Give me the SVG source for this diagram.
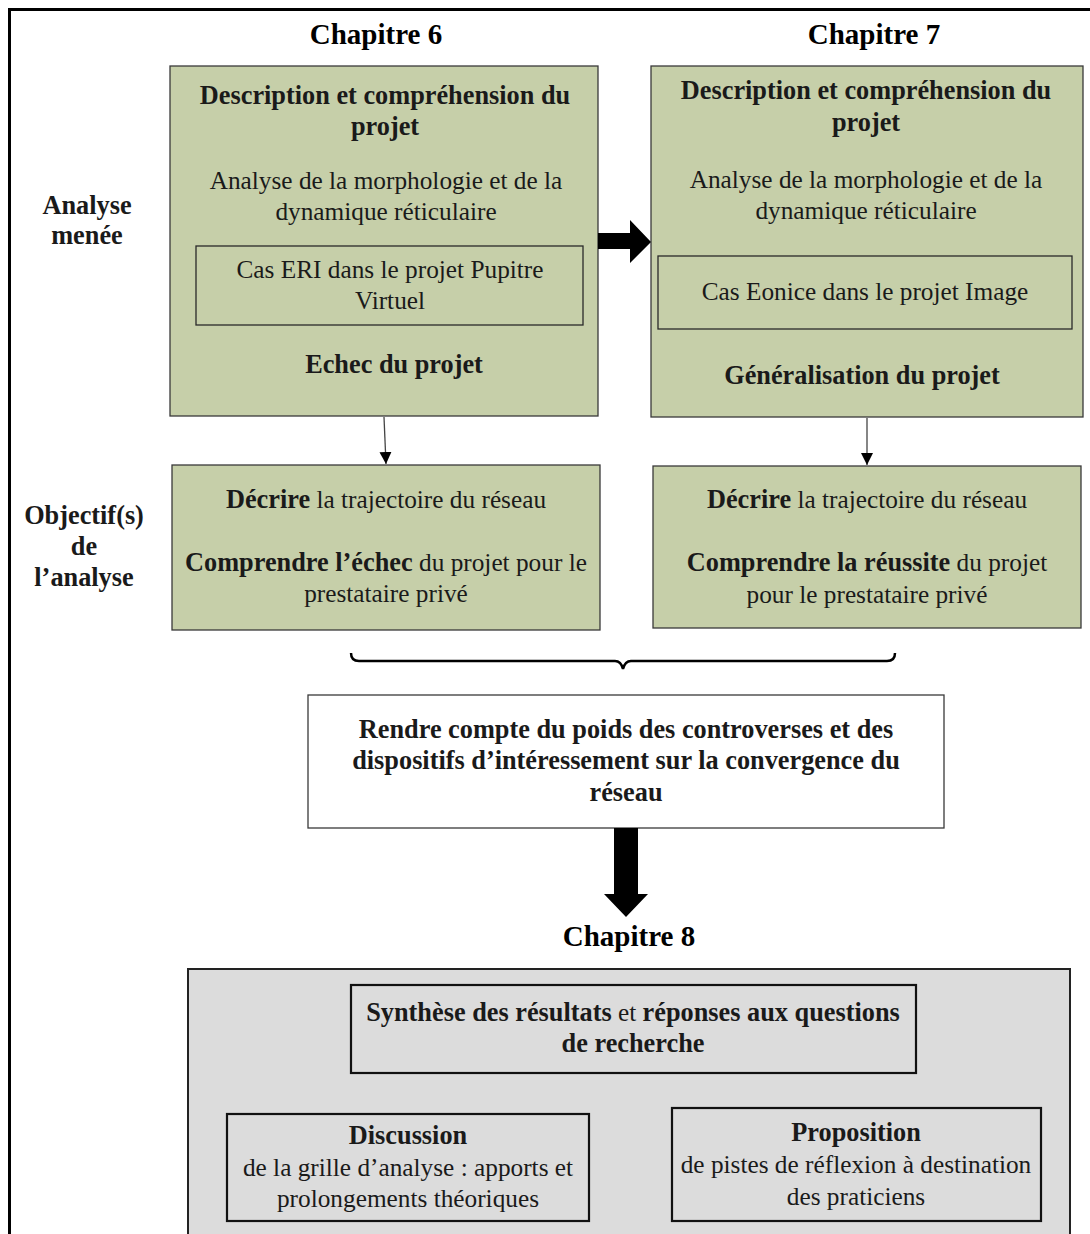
<svg xmlns="http://www.w3.org/2000/svg" width="1090" height="1234" viewBox="0 0 1090 1234">
<defs>
<style>
text{font-family:"Liberation Serif","DejaVu Serif",serif;font-size:25.3px;fill:#1a1a1a;text-anchor:middle}
.b{font-weight:bold;font-size:26.3px}
.h{font-weight:bold;font-size:29px;fill:#000}
.green{fill:#c6cfa9;stroke:#3a3a3a;stroke-width:1.3}
.inner{fill:none;stroke:#2a2a2a;stroke-width:1.3}
.white{fill:#fff;stroke:#3a3a3a;stroke-width:1.3}
.grey{fill:#dcdcdc;stroke:#222;stroke-width:2}
.gbox{fill:#dcdcdc;stroke:#111;stroke-width:2.2}
</style>
<marker id="ah" viewBox="0 0 10 10" refX="10" refY="5" markerWidth="12" markerHeight="12" markerUnits="userSpaceOnUse" orient="auto"><path d="M0,0 L10,5 L0,10 z" fill="#000"/></marker>
</defs>
<rect x="0" y="0" width="1090" height="1234" fill="#fff"/>
<path d="M9.5,1240 V9.5 H1095" fill="none" stroke="#000" stroke-width="3"/>

<g id="labels">
<text class="h" x="376" y="44">Chapitre 6</text>
<text class="h" x="874" y="44">Chapitre 7</text>
<text class="b" x="87" y="214">Analyse</text>
<text class="b" x="87" y="244">menée</text>
<text class="b" x="84" y="524">Objectif(s)</text>
<text class="b" x="84" y="555">de</text>
<text class="b" x="84" y="586">l’analyse</text>
</g>

<g id="chap6">
<rect class="green" x="170" y="66" width="428" height="350"/>
<text class="b" x="385" y="104">Description et compréhension du</text>
<text class="b" x="385" y="135">projet</text>
<text x="386" y="189">Analyse de la morphologie et de la</text>
<text x="386" y="220">dynamique réticulaire</text>
<rect class="inner" x="196" y="246" width="387" height="79"/>
<text x="390" y="278">Cas ERI dans le projet Pupitre</text>
<text x="390" y="309">Virtuel</text>
<text class="b" x="394" y="373">Echec du projet</text>
</g>

<g id="chap7">
<rect class="green" x="651" y="66" width="432" height="351"/>
<text class="b" x="866" y="99">Description et compréhension du</text>
<text class="b" x="866" y="131">projet</text>
<text x="866" y="188">Analyse de la morphologie et de la</text>
<text x="866" y="219">dynamique réticulaire</text>
<rect class="inner" x="658" y="256" width="414" height="73"/>
<text x="865" y="300">Cas Eonice dans le projet Image</text>
<text class="b" x="862" y="384">Généralisation du projet</text>
</g>

<g id="obj6">
<rect class="green" x="172" y="465" width="428" height="165"/>
<text x="386" y="508"><tspan class="b">Décrire</tspan> la trajectoire du réseau</text>
<text x="386" y="571"><tspan class="b">Comprendre l’échec</tspan> du projet pour le</text>
<text x="386" y="602">prestataire privé</text>
</g>

<g id="obj7">
<rect class="green" x="653" y="466" width="428" height="162"/>
<text x="867" y="508"><tspan class="b">Décrire</tspan> la trajectoire du réseau</text>
<text x="867" y="571"><tspan class="b">Comprendre la réussite</tspan> du projet</text>
<text x="867" y="603">pour le prestataire privé</text>
</g>

<g id="synth1">
<rect class="white" x="308" y="695" width="636" height="133"/>
<text class="b" x="626" y="738">Rendre compte du poids des controverses et des</text>
<text class="b" x="626" y="769">dispositifs d’intéressement sur la convergence du</text>
<text class="b" x="626" y="801">réseau</text>
</g>

<g id="chap8">
<text class="h" x="629" y="946">Chapitre 8</text>
<rect class="grey" x="188" y="969" width="882" height="280"/>
<g id="synthese">
<rect class="gbox" x="351" y="985" width="565" height="88"/>
<text x="633" y="1021"><tspan class="b">Synthèse des résultats</tspan> et <tspan class="b">réponses aux questions</tspan></text>
<text class="b" x="633" y="1052">de recherche</text>
</g>
<g id="discussion">
<rect class="gbox" x="227" y="1114" width="362" height="107"/>
<text class="b" x="408" y="1144">Discussion</text>
<text x="408" y="1176">de la grille d’analyse : apports et</text>
<text x="408" y="1207">prolongements théoriques</text>
</g>
<g id="proposition">
<rect class="gbox" x="672" y="1108" width="369" height="113"/>
<text class="b" x="856" y="1141">Proposition</text>
<text x="856" y="1173">de pistes de réflexion à destination</text>
<text x="856" y="1205">des praticiens</text>
</g>
</g>

<g id="connectors">
<path d="M598,233 H630 V220 L651,242 L630,263 V249 H598 z" fill="#000"/>
<line x1="384" y1="417" x2="386" y2="464" stroke="#444" stroke-width="1.3" marker-end="url(#ah)"/>
<line x1="867" y1="418" x2="867" y2="465" stroke="#444" stroke-width="1.3" marker-end="url(#ah)"/>
<path d="M351,653 Q351,661 359,661 H615 Q621,661 623,669 Q625,661 631,661 H887 Q895,661 895,653" fill="none" stroke="#000" stroke-width="2.5"/>
<path d="M614,828 H638 V894 H648 L626,917 L604,894 H614 z" fill="#000"/>
</g>
</svg>
